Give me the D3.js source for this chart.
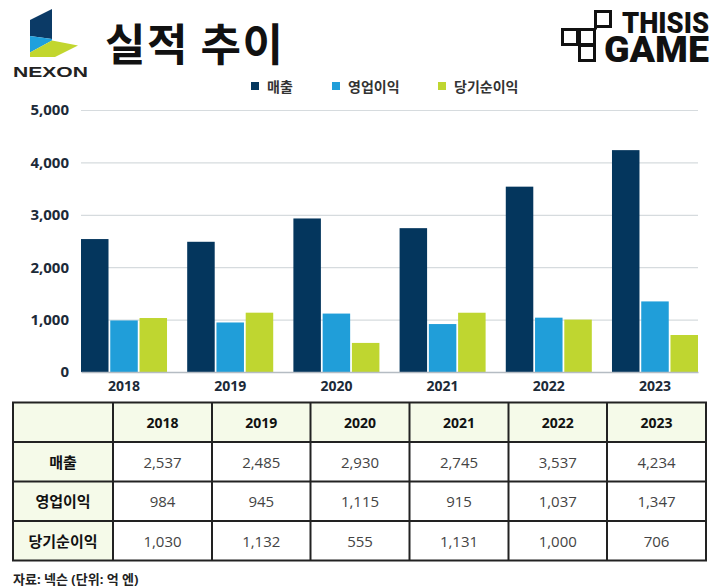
<!DOCTYPE html>
<html>
<head>
<meta charset="utf-8">
<script src="https://cdn.jsdelivr.net/npm/d3@7"></script>
<style>
html,body{margin:0;padding:0;background:#fff;}
svg{display:block;font-family:'Open Sans','Noto Sans CJK KR',sans-serif;}
</style>
</head>
<body>
<svg id="chart" width="720" height="587"></svg>
<script>
// ---- data ----
const years = ["2018", "2019", "2020", "2021", "2022", "2023"];
const seriesNames = ["매출", "영업이익", "당기순이익"];
const revenue = [2537, 2485, 2930, 2745, 3537, 4234];
const operatingProfit = [984, 945, 1115, 915, 1037, 1347];
const netIncome = [1030, 1132, 555, 1131, 1000, 706];
const yTicks = [0, 1000, 2000, 3000, 4000, 5000];
const titleText = "실적 추이";
const sourceText = "자료: 넥슨 (단위: 억 엔)";

const seriesValues = [revenue, operatingProfit, netIncome];
const colors = ["#04365d", "#209ed9", "#bfd630"];

const svg = d3.select("#chart");

// ---- header: Nexon logo ----
const logo = svg.append("g");
logo.append("polygon").attr("points", "30,20 52,9 52,39 30,36").attr("fill", "#0b3a66");
logo.append("polygon").attr("points", "30,36 52,39 52,40.5 30,52.5").attr("fill", "#1fa0dc");
logo.append("polygon").attr("points", "30,52.5 52,40.5 78,45.5 55,57 30,57").attr("fill", "#c2d62e");
logo.append("text").attr("x", 13).attr("y", 76.5).attr("textLength", 75).attr("lengthAdjust", "spacingAndGlyphs")
  .attr("font-family", "'Liberation Sans',Arial,sans-serif").attr("font-weight", 700).attr("font-size", 14)
  .attr("fill", "#222").text("NEXON");

// title
svg.append("text").attr("x", 105).attr("y", 42).attr("dominant-baseline", "central")
  .attr("font-family", "'Noto Sans CJK KR',sans-serif").attr("font-weight", 700)
  .attr("font-size", 44).attr("letter-spacing", 1.5).attr("fill", "#111").text(titleText);

// ---- ThisIsGame logo ----
const tig = svg.append("g").attr("fill", "none").attr("stroke", "#111").attr("stroke-width", 3);
[[595.5, 11.5], [562.5, 29.5], [579.5, 29.5], [579.5, 45.5]].forEach(p => {
  tig.append("rect").attr("x", p[0]).attr("y", p[1]).attr("width", 15).attr("height", 15);
});
tig.append("line").attr("x1", 594).attr("y1", 28).attr("x2", 597).attr("y2", 28);
svg.append("text").attr("x", 622).attr("y", 33).attr("textLength", 87).attr("lengthAdjust", "spacingAndGlyphs")
  .attr("font-family", "Roboto,'DejaVu Sans',sans-serif").attr("font-weight", 900).attr("font-size", 29)
  .attr("fill", "#111").text("THISIS");
svg.append("text").attr("x", 604).attr("y", 62).attr("textLength", 105).attr("lengthAdjust", "spacingAndGlyphs")
  .attr("font-family", "Roboto,'DejaVu Sans',sans-serif").attr("font-weight", 900).attr("font-size", 36)
  .attr("fill", "#111").text("GAME");

// ---- legend ----
const legendX = [251, 332, 438];
const legend = svg.append("g");
seriesNames.forEach((name, i) => {
  legend.append("rect").attr("x", legendX[i]).attr("y", 82).attr("width", 8).attr("height", 8).attr("fill", colors[i]);
  legend.append("text").attr("x", legendX[i] + 16).attr("y", 86.5).attr("dominant-baseline", "central")
    .attr("font-size", 14).attr("font-weight", 700).attr("fill", "#333").text(name);
});

// ---- chart ----
const plotL = 81, plotR = 698, plotT = 110, plotB = 372;
const y = d3.scaleLinear().domain([0, 5000]).range([plotB, plotT]);
const x0 = d3.scaleBand().domain(years).range([plotL, plotR]).paddingInner(0.19).paddingOuter(0);
const x1 = d3.scaleBand().domain(d3.range(seriesNames.length)).range([0, x0.bandwidth()]).paddingInner(0.06);

// gridlines
const grid = svg.append("g").attr("transform", `translate(${plotL},0)`)
  .call(d3.axisLeft(y).tickValues(yTicks.filter(d => d > 0)).tickSize(-(plotR - plotL)).tickFormat(""));
grid.select(".domain").remove();
grid.selectAll("line").attr("stroke", "#d6dbde").attr("stroke-width", 1.2);

// y labels
const yAxis = svg.append("g").attr("transform", `translate(${plotL},0)`)
  .call(d3.axisLeft(y).tickValues(yTicks).tickSize(0).tickPadding(12).tickFormat(d3.format(",")));
yAxis.select(".domain").remove();
yAxis.selectAll("text").attr("font-size", 15).attr("font-weight", 700).attr("fill", "#1c2a38")
  .attr("font-family", "'Open Sans',sans-serif");

// bars
const groups = svg.append("g").selectAll("g").data(years).join("g")
  .attr("transform", d => `translate(${x0(d)},0)`);
groups.selectAll("rect").data((d, yi) => seriesValues.map((s, si) => ({ si, v: s[yi] }))).join("rect")
  .attr("x", d => x1(d.si)).attr("width", x1.bandwidth())
  .attr("y", d => y(d.v)).attr("height", d => y(0) - y(d.v))
  .attr("fill", d => colors[d.si]);

// baseline + x labels
const xAxis = svg.append("g").attr("transform", `translate(0,${plotB})`)
  .call(d3.axisBottom(x0).tickSize(0).tickPadding(9));
xAxis.select(".domain").attr("stroke", "#b5bcc3").attr("stroke-width", 1.5);
xAxis.selectAll("text").attr("font-size", 14).attr("font-weight", 700).attr("fill", "#1c2a38")
  .attr("font-family", "'Open Sans',sans-serif");

// ---- table ----
const colEdges = [13, 113, 212, 310.5, 409.5, 508.5, 607, 706];
const rowEdges = [402.5, 442, 481.5, 521, 560.5];
const table = svg.append("g");
table.append("rect").attr("x", colEdges[0]).attr("y", rowEdges[0])
  .attr("width", colEdges[7] - colEdges[0]).attr("height", rowEdges[1] - rowEdges[0]).attr("fill", "#f5fae9");
table.append("rect").attr("x", colEdges[0]).attr("y", rowEdges[0])
  .attr("width", colEdges[1] - colEdges[0]).attr("height", rowEdges[4] - rowEdges[0]).attr("fill", "#f5fae9");
years.forEach((yr, i) => {
  table.append("text").attr("x", (colEdges[i + 1] + colEdges[i + 2]) / 2).attr("y", (rowEdges[0] + rowEdges[1]) / 2)
    .attr("text-anchor", "middle").attr("dominant-baseline", "central")
    .attr("font-size", 14).attr("font-weight", 700).attr("fill", "#111").text(yr);
});
seriesNames.forEach((name, r) => {
  const cy = (rowEdges[r + 1] + rowEdges[r + 2]) / 2;
  table.append("text").attr("x", (colEdges[0] + colEdges[1]) / 2).attr("y", cy)
    .attr("text-anchor", "middle").attr("dominant-baseline", "central")
    .attr("font-size", 15).attr("font-weight", 700).attr("fill", "#111").text(name);
  seriesValues[r].forEach((v, c) => {
    table.append("text").attr("x", (colEdges[c + 1] + colEdges[c + 2]) / 2).attr("y", cy)
      .attr("text-anchor", "middle").attr("dominant-baseline", "central")
      .attr("font-size", 15).attr("font-weight", 400).attr("fill", "#444").text(d3.format(",")(v));
  });
});
colEdges.forEach(cx => {
  table.append("line").attr("x1", cx).attr("x2", cx).attr("y1", rowEdges[0]).attr("y2", rowEdges[4])
    .attr("stroke", "#222").attr("stroke-width", 2);
});
rowEdges.forEach(ry => {
  table.append("line").attr("x1", colEdges[0] - 1).attr("x2", colEdges[7] + 1).attr("y1", ry).attr("y2", ry)
    .attr("stroke", "#222").attr("stroke-width", 2);
});

// source
svg.append("text").attr("x", 13).attr("y", 578.5).attr("dominant-baseline", "central")
  .attr("font-size", 13).attr("font-weight", 700).attr("fill", "#222").text(sourceText);
</script>
</body>
</html>
